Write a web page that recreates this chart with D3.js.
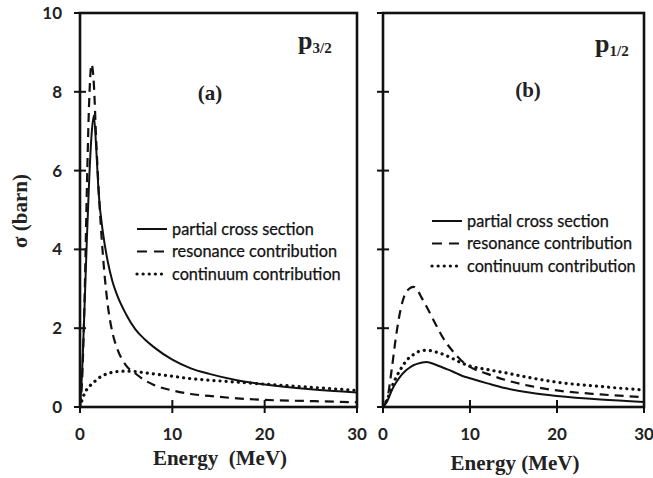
<!DOCTYPE html>
<html><head><meta charset="utf-8">
<script src="https://cdn.jsdelivr.net/npm/d3@7"></script>
<style>body{margin:0;background:#fff}svg{display:block}</style>
</head><body>
<svg id="c" width="653" height="478"></svg>
<script>
// ---- data ----
const energyA = [0,0.25,0.5,0.75,1.0,1.25,1.5,1.75,2.0,2.5,3,3.5,4,5,6,7,8,10,12,14,17,20,25,30];
const partialA   = [0,1.0,2.6,4.3,5.8,6.9,7.4,6.6,5.5,4.4,3.7,3.2,2.85,2.35,1.97,1.72,1.52,1.2,0.98,0.84,0.68,0.57,0.45,0.37];
const resonanceA = [0,0.8,2.8,5.6,7.8,8.7,8.2,6.8,5.6,3.8,2.6,1.9,1.5,1.05,0.85,0.68,0.56,0.42,0.33,0.28,0.22,0.18,0.15,0.12];
const continuumA = [0,0.2,0.35,0.45,0.52,0.58,0.63,0.68,0.73,0.8,0.85,0.88,0.9,0.91,0.9,0.87,0.84,0.78,0.72,0.68,0.63,0.58,0.5,0.42];

const energyB = [0,0.5,1,1.5,2,2.5,3,3.5,4,4.5,5,6,7,8,9,10,12,14,17,20,25,30];
const partialB   = [0,0.15,0.42,0.62,0.78,0.9,0.99,1.06,1.1,1.13,1.14,1.08,0.99,0.9,0.8,0.73,0.6,0.48,0.36,0.28,0.19,0.13];
const resonanceB = [0,0.22,0.95,1.8,2.45,2.85,3.0,3.05,2.95,2.75,2.55,2.12,1.72,1.42,1.18,1.02,0.84,0.69,0.53,0.42,0.32,0.25];
const continuumB = [0,0.2,0.5,0.75,0.95,1.12,1.25,1.33,1.4,1.43,1.44,1.4,1.33,1.23,1.12,1.04,0.95,0.87,0.74,0.63,0.52,0.43];

const xTicks = [0,10,20,30];
const yTicks = [0,2,4,6,8,10];
const legendLabels = ["partial cross section","resonance contribution","continuum contribution"];

// ---- drawing ----
const svg = d3.select("#c");
const styles = [
  {dash:null, w:2, cap:"butt"},
  {dash:"9,6", w:2.2, cap:"butt"},
  {dash:"0.1,6", w:3.2, cap:"round"}
];
const y = d3.scaleLinear().domain([0,10]).range([407,13]);
const sans = "Lato, 'Open Sans', sans-serif";
const serif = "'Liberation Serif', 'DejaVu Serif', serif";

function panel(opt){
  const x = d3.scaleLinear().domain([0,30]).range([opt.x0,opt.x1]);
  const g = svg.append("g");
  const series = [opt.partial, opt.res, opt.cont];
  const line = d3.line().x((d,i)=>x(opt.energy[i])).y(d=>y(d)).curve(d3.curveMonotoneX);
  series.forEach((s,k)=>{
    g.append("path").attr("d", line(s)).attr("fill","none").attr("stroke","#111")
      .attr("stroke-width", styles[k].w).attr("stroke-dasharray", styles[k].dash)
      .attr("stroke-linecap", styles[k].cap).attr("stroke-linejoin","round");
  });
  // frame
  g.append("rect").attr("x",opt.x0).attr("y",y(10)).attr("width",opt.x1-opt.x0).attr("height",y(0)-y(10))
    .attr("fill","none").attr("stroke","#111").attr("stroke-width",2.6);
  // y ticks
  yTicks.forEach(t=>{
    g.append("line").attr("x1",opt.x0-6).attr("x2",opt.x0+6).attr("y1",y(t)).attr("y2",y(t))
      .attr("stroke","#111").attr("stroke-width",2);
    if(opt.yLabels) g.append("text").attr("x",opt.x0-18).attr("y",y(t)+6).attr("text-anchor","end")
      .attr("font-family",sans).attr("font-weight","bold").attr("font-size",17).attr("fill","#222").text(t);
  });
  xTicks.forEach(t=>{
    g.append("line").attr("x1",x(t)).attr("x2",x(t)).attr("y1",y(0)-7).attr("y2",y(0)+6)
      .attr("stroke","#111").attr("stroke-width",2);
    g.append("text").attr("x",x(t)).attr("y",440).attr("text-anchor","middle")
      .attr("font-family",sans).attr("font-weight","bold").attr("font-size",17).attr("fill","#222").text(t);
  });
  // x label
  g.append("text").attr("x",opt.xlabX).attr("y",opt.xlabY).attr("text-anchor","middle")
    .attr("font-family",serif).attr("font-weight","bold").attr("font-size",21).attr("fill","#222")
    .attr("xml:space","preserve").style("white-space","pre").text(opt.xlab);
  // panel letter
  g.append("text").attr("x",opt.letX).attr("y",opt.letY).attr("text-anchor","middle")
    .attr("font-family",serif).attr("font-weight","bold").attr("font-size",21).attr("fill","#222").text(opt.letter);
  // state label
  const st = g.append("text").attr("x",opt.stX).attr("y",opt.stY)
    .attr("font-family",serif).attr("font-weight","bold").attr("fill","#222");
  st.append("tspan").attr("font-size",26).text("p");
  st.append("tspan").attr("font-size",15).attr("dy",4).text(opt.sub);
  // legend
  legendLabels.forEach((lab,k)=>{
    const ly = opt.legY + k*22.5;
    g.append("line").attr("x1",opt.legX).attr("x2",opt.legX+ (k==2?25:30)).attr("y1",ly).attr("y2",ly)
      .attr("stroke","#111").attr("stroke-width",styles[k].w).attr("stroke-dasharray",k==1?"10,7":styles[k].dash)
      .attr("stroke-linecap",styles[k].cap);
    g.append("text").attr("x",opt.legX+35).attr("y",ly+5.5).attr("font-family",sans).attr("font-size",16.3)
      .attr("fill","#111").attr("stroke","#111").attr("stroke-width",0.25).text(lab);
  });
}

panel({x0:80,x1:357,energy:energyA,partial:partialA,res:resonanceA,cont:continuumA,yLabels:true,
  xlab:"Energy  (MeV)", xlabX:220, xlabY:465, letter:"(a)", letX:210, letY:100, stX:298, stY:49, sub:"3/2",
  legX:137, legY:229});
panel({x0:383,x1:644,energy:energyB,partial:partialB,res:resonanceB,cont:continuumB,yLabels:false,
  xlab:"Energy (MeV)", xlabX:515, xlabY:470, letter:"(b)", letX:528, letY:97, stX:595, stY:52, sub:"1/2",
  legX:432, legY:221});

svg.append("text").attr("transform","translate(27,211) rotate(-90)").attr("text-anchor","middle")
  .attr("font-family",serif).attr("font-weight","bold").attr("font-size",21).attr("fill","#222").text("σ (barn)");
</script>
</body></html>
